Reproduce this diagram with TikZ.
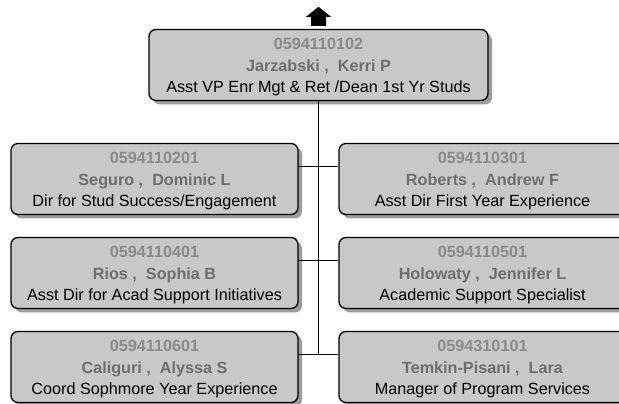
\documentclass[tikz,border=0pt]{standalone}
\usepackage{fontspec}
\setmainfont{Liberation Sans}
\usetikzlibrary{shadows,calc}
\definecolor{boxfill}{HTML}{C8C8C8}
\definecolor{shadowgray}{HTML}{9C9C9C}
\definecolor{idgray}{HTML}{8A8A8A}
\definecolor{namegray}{HTML}{6E6E6E}
% three-line card: id, name, title
\newcommand{\entry}[3]{\rule{0pt}{16pt}{\color{idgray}\bfseries #1}\\{\color{namegray}\bfseries #2}\\#3}
\tikzset{
  person/.style={draw=black, line width=1.3pt, fill=boxfill, rounded corners=7pt,
    minimum height=71pt, inner sep=0pt, align=center,
    font=\fontsize{16.2}{21.5}\selectfont,
    drop shadow={shadow xshift=4pt, shadow yshift=-4pt, fill=shadowgray, opacity=1}},
  topbox/.style={person, minimum width=339pt},
  sidebox/.style={person, minimum width=287pt},
  link/.style={draw=black, line width=1pt}
}
\begin{document}
\begin{tikzpicture}[x=1pt, y=1pt]
\clip (0,0) rectangle (619,404);
\fill[white] (0,0) rectangle (619,404);

% head of the unit
\node[topbox] (top) at (318.5,339) {\entry{0594110102}{Jarzabski ,\ \ Kerri P}{Asst VP Enr Mgt \& Ret /Dean 1st Yr Studs}};

% direct reports, left column
\node[sidebox] (l1) at (154.5,225) {\entry{0594110201}{Seguro ,\ \ Dominic L}{Dir for Stud Success/Engagement}};
\node[sidebox] (l2) at (154.5,131) {\entry{0594110401}{Rios ,\ \ Sophia B}{Asst Dir for Acad Support Initiatives}};
\node[sidebox] (l3) at (154.5,37) {\entry{0594110601}{Caliguri ,\ \ Alyssa S}{Coord Sophmore Year Experience}};

% direct reports, right column
\node[sidebox] (r1) at (482.5,225) {\entry{0594110301}{Roberts ,\ \ Andrew F}{Asst Dir First Year Experience}};
\node[sidebox] (r2) at (482.5,131) {\entry{0594110501}{Holowaty ,\ \ Jennifer L}{Academic Support Specialist}};
\node[sidebox] (r3) at (482.5,37) {\entry{0594310101}{Temkin-Pisani ,\ \ Lara}{Manager of Program Services}};

% junction points on the trunk
\coordinate (j1) at ($(l1.east)+(0,12)$);
\coordinate (j2) at ($(l2.east)+(0,12)$);
\coordinate (j3) at ($(l3.east)+(0,12)$);

% connectors
\draw[link] (top.south) -- (top.south |- j3);
\draw[link] (j1) -- (r1.west |- j1);
\draw[link] (j2) -- (r2.west |- j2);
\draw[link] (j3) -- (r3.west |- j3);

% upward arrow above the head box
\fill[black] ($(top.north)+(-7.5,3)$) -- ($(top.north)+(-7.5,12)$) -- ($(top.north)+(-12.5,12)$)
  -- ($(top.north)+(0,22)$) -- ($(top.north)+(12.5,12)$) -- ($(top.north)+(7.5,12)$)
  -- ($(top.north)+(7.5,3)$) -- cycle;
\end{tikzpicture}
\end{document}
